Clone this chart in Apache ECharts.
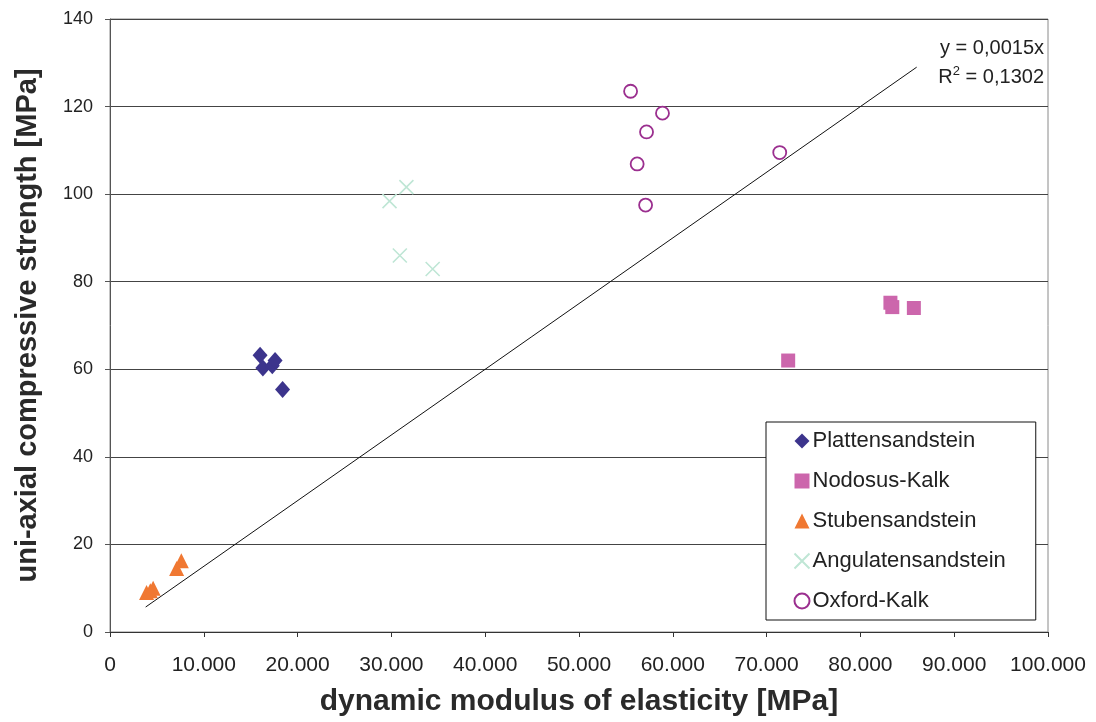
<!DOCTYPE html>
<html>
<head>
<meta charset="utf-8">
<script src="https://cdn.jsdelivr.net/npm/echarts@6/dist/echarts.min.js"></script>
<style>html,body{margin:0;padding:0;background:#fff}#c{width:1096px;height:722px}</style>
</head>
<body>
<div id="c"></div>
<script>
// Data (x: dynamic modulus [MPa], y: UCS [MPa])
var plattensandstein = [[16000, 63.2], [16300, 60.3], [17300, 60.8], [17600, 62.0], [18400, 55.4]];
var nodosusKalk = [[83200, 75.2], [83400, 74.2], [85700, 74.0], [72300, 62.0]];
var stubensandstein = [[3900, 9.0], [4300, 9.4], [4600, 10.0], [7100, 14.5], [7600, 16.3]];
var angulatensandstein = [[31600, 101.6], [29800, 98.4], [30900, 86.0], [34400, 82.9]];
var oxfordKalk = [[55500, 123.5], [58900, 118.5], [57200, 114.2], [56200, 106.9], [71400, 109.5], [57100, 97.5]];
var trendLine = [[3800, 5.7], [86000, 129.0]];
var seriesNames = ['Plattensandstein', 'Nodosus-Kalk', 'Stubensandstein', 'Angulatensandstein', 'Oxford-Kalk'];
var equationText = ['y = 0,0015x', '0,1302'];

var FONT = '"Liberation Sans", Arial, sans-serif';
var chart = echarts.init(document.getElementById('c'), null, {renderer: 'canvas'});

function fmtThousands(v) {
  if (v === 0) return '0';
  return String(v).replace(/\B(?=(\d{3})+(?!\d))/g, '.');
}

chart.setOption({
  animation: false,
  backgroundColor: '#fff',
  grid: {left: 110, right: 48, top: 19, bottom: 89, show: true, borderColor: '#8a8a8a', borderWidth: 1, backgroundColor: 'transparent'},
  xAxis: {
    type: 'value', min: 0, max: 100000, interval: 10000,
    name: 'dynamic modulus of elasticity [MPa]', nameLocation: 'middle', nameGap: 55,
    nameTextStyle: {fontFamily: FONT, fontSize: 30, fontWeight: 'bold', color: '#2a2a2a'},
    axisLine: {show: true, lineStyle: {color: '#333', width: 1}},
    axisTick: {show: true, inside: false, length: 5, lineStyle: {color: '#333'}},
    axisLabel: {fontFamily: FONT, fontSize: 21, color: '#222', margin: 23, formatter: fmtThousands},
    splitLine: {show: false}
  },
  yAxis: {
    type: 'value', min: 0, max: 140, interval: 20,
    name: 'uni-axial compressive strength [MPa]', nameLocation: 'middle', nameGap: 68,
    nameTextStyle: {fontFamily: FONT, fontSize: 29, fontWeight: 'bold', color: '#2a2a2a'},
    axisLine: {show: true, lineStyle: {color: '#555', width: 1}},
    axisTick: {show: true, inside: false, length: 5, lineStyle: {color: '#555'}},
    axisLabel: {fontFamily: FONT, fontSize: 18, color: '#222', margin: 17},
    splitLine: {show: true, lineStyle: {color: '#444', width: 1}}
  },
  legend: {
    orient: 'vertical', left: 766, top: 422,
    data: seriesNames,
    backgroundColor: '#fff', borderColor: '#111', borderWidth: 1,
    padding: [8, 30, 8, 26],
    itemWidth: 15, itemHeight: 15, itemGap: 18,
    textStyle: {fontFamily: FONT, fontSize: 22, color: '#222', lineHeight: 22, padding: [0, 0, 0, -2]}
  },
  graphic: [
    {type: 'text', right: 52, top: 38, style: {text: equationText[0], font: '20px ' + FONT, fill: '#222'}},
    {type: 'text', right: 52, top: 65, style: {
      text: '{n|R}{s|2}{n| = ' + equationText[1] + '}',
      rich: {
        n: {font: '20px ' + FONT, fill: '#222', verticalAlign: 'bottom', lineHeight: 22},
        s: {font: '13px ' + FONT, fill: '#222', verticalAlign: 'top', lineHeight: 22, padding: [0, 0, 8, 0]}
      }
    }}
  ],
  series: [
    {name: 'trend', type: 'line', data: trendLine, symbol: 'none', silent: true,
     lineStyle: {color: '#111', width: 1}, z: 1},
    {name: seriesNames[0], type: 'scatter', data: plattensandstein, symbol: 'diamond', symbolSize: [15, 17],
     itemStyle: {color: '#3c348c', opacity: 1}, z: 3},
    {name: seriesNames[1], type: 'scatter', data: nodosusKalk, symbol: 'rect', symbolSize: 14,
     itemStyle: {color: '#cc66ac', opacity: 1}, z: 3},
    {name: seriesNames[2], type: 'scatter', data: stubensandstein, symbol: 'triangle', symbolSize: [15, 15],
     itemStyle: {color: '#f07832', opacity: 1}, z: 3},
    {name: seriesNames[3], type: 'scatter', data: angulatensandstein, symbol: 'path://M0,0L10,10M10,0L0,10', symbolSize: 14,
     itemStyle: {color: 'none', borderColor: '#bfe6d5', borderWidth: 1.6, opacity: 1}, z: 3},
    {name: seriesNames[4], type: 'scatter', data: oxfordKalk, symbol: 'circle', symbolSize: 13,
     itemStyle: {color: '#fff', borderColor: '#9b2f8f', borderWidth: 1.8, opacity: 1}, z: 3}
  ]
});
</script>
</body>
</html>
